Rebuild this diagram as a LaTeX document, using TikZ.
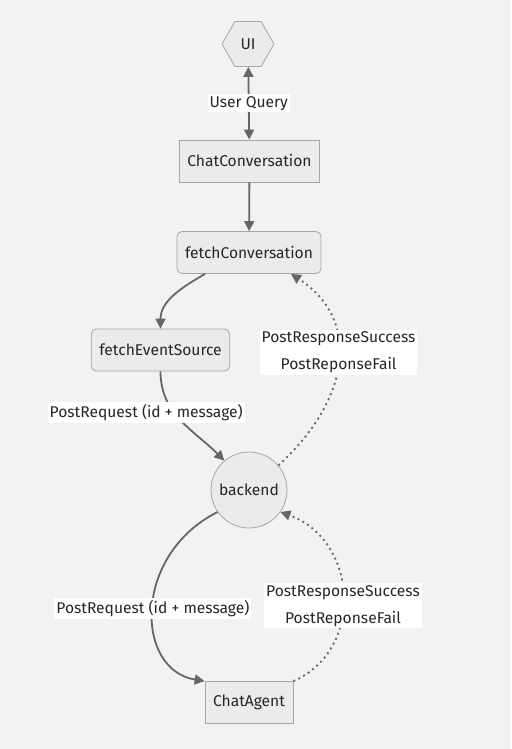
\documentclass[tikz,border=0pt]{standalone}
\usepackage{fontspec}
\setmainfont{Fira Sans}
\usetikzlibrary{shapes.geometric,arrows.meta}

\begin{document}
\begin{tikzpicture}[x=1pt, y=1pt, >={Triangle[length=10pt,width=10pt]},
	every node/.style={font=\fontsize{15.6}{18}\selectfont, text=black!85},
	box/.style={draw=black!35, fill=black!8, line width=0.8pt, minimum height=42pt, inner xsep=8pt},
	rbox/.style={box, rounded corners=5pt},
	hexa/.style={regular polygon, regular polygon sides=6, draw=black!35, fill=black!8, line width=0.8pt, minimum size=52pt, inner sep=0pt},
	circ/.style={circle, draw=black!35, fill=black!8, line width=0.8pt, minimum size=76pt, inner sep=0pt},
	flow/.style={->, draw=black!60, line width=1.8pt},
	reply/.style={flow, dash pattern=on 2pt off 3.5pt},
	lbl/.style={fill=white, inner sep=2pt, align=center}]
	% ========== 背景 ==========
	\fill[black!5] (0,0) rectangle (511,-749);
	
	% ========== 节点 ==========
	\node[hexa] (ui) at (248,-44) {UI};
	\node[box] (chat) at (249.5,-161) {ChatConversation};
	\node[rbox] (fetchconv) at (249,-252.5) {fetchConversation};
	\node[rbox] (fetchsrc) at (160.5,-350) {fetchEventSource};
	\node[circ] (backend) at (249,-490) {backend};
	\node[box] (agent) at (249,-702.5) {ChatAgent};
	
	% ========== 连线 ==========
	\draw[flow, <->] (ui) -- (chat) node[lbl, midway] {User Query};
	\draw[flow] (chat) -- (fetchconv);
	\draw[flow] (fetchconv.206) to[out=210, in=90] (fetchsrc.north);
	\draw[flow] (fetchsrc.south) to[out=-90, in=135] node[lbl, pos=0.4, xshift=-28pt] {PostRequest (id + message)} (backend.130);
	\draw[reply] (backend.40) .. controls (350,-400) and (362,-320) .. node[lbl, pos=0.55] {PostResponseSuccess\\[9pt]PostReponseFail} (fetchconv.-27);
	
	\draw[flow] (backend.215) .. controls (132,-555) and (135,-670) .. node[lbl, pos=0.5] {PostRequest (id + message)} (agent.north west);
	\draw[reply] (agent.north east) .. controls (365,-650) and (358,-540) .. node[lbl, pos=0.45] {PostResponseSuccess\\[9pt]PostReponseFail} (backend.-35);
\end{tikzpicture}
\end{document}
